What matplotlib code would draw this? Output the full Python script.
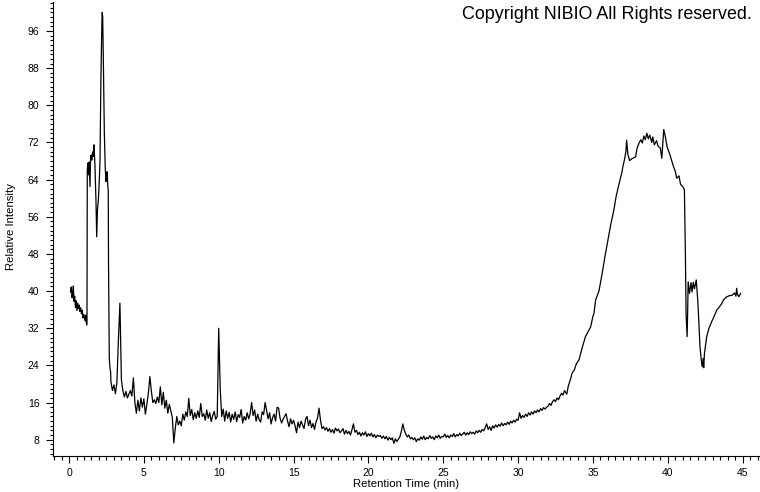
import numpy as np
import matplotlib
matplotlib.use('Agg')
import matplotlib.pyplot as plt
from matplotlib.ticker import MultipleLocator

plt.rcParams['font.family'] = ['Liberation Sans', 'DejaVu Sans']

# chromatogram: start, big early peak, noisy baseline, broad hump
start_t = [0.10, 0.15, 0.20, 0.25, 0.29, 0.33, 0.38, 0.43, 0.48, 0.53, 0.58, 0.63,
           0.68, 0.73, 0.78, 0.83, 0.88, 0.93, 0.98, 1.02, 1.07, 1.12, 1.16, 1.18]
start_v = [39.8, 40.9, 38.6, 39.5, 41.1, 37.8, 38.9, 36.5, 37.9, 35.8, 37.4, 36.2,
           37.0, 35.6, 36.4, 35.1, 35.9, 34.2, 35.0, 34.5, 33.6, 34.8, 33.1, 32.7]

peak_t = [1.20, 1.22, 1.26, 1.31, 1.35, 1.40, 1.44, 1.48, 1.52, 1.58, 1.63, 1.67,
          1.73, 1.80, 1.85, 1.90, 1.96, 2.02, 2.07, 2.13, 2.20, 2.22, 2.25, 2.29,
          2.36, 2.42, 2.47, 2.51, 2.55, 2.59, 2.62, 2.64, 2.69, 2.74, 2.78]
peak_v = [33.2, 66.0, 67.6, 65.0, 67.8, 62.5, 68.6, 69.3, 68.2, 70.0, 69.0, 71.5,
          67.2, 59.6, 51.7, 57.5, 59.6, 63.5, 68.2, 85.5, 98.4, 100.0, 99.0, 90.5,
          74.0, 66.5, 63.6, 64.5, 65.7, 62.5, 61.8, 45.6, 25.5, 23.4, 22.6]

# baseline sampled every 0.1 min from 2.8 min
base_start = 2.8
base_v = [20.5, 18.6,
          19.8, 17.9, 20.4, 29.5, 37.4, 20.9, 18.5, 17.2, 18.4, 17.0,   # 3
          17.8, 18.6, 17.4, 21.3, 16.0, 13.7, 16.5, 14.2, 17.0, 15.0,   # 4
          16.8, 13.5, 15.6, 18.0, 21.6, 18.5, 16.0, 16.6, 15.8, 17.2,   # 5
          16.0, 19.4, 15.5, 18.2, 14.8, 16.5, 13.7, 15.6, 14.2, 12.8,   # 6
          7.3, 10.5, 13.0, 11.2, 12.0, 11.0, 13.5, 12.2, 14.0, 13.0,    # 7
          16.9, 13.2, 14.5, 12.3, 13.8, 12.6, 14.2, 12.8, 15.8, 13.0,   # 8
          13.6, 12.2, 14.4, 12.6, 13.8, 11.9, 13.2, 14.1, 12.4, 13.0,   # 9
          32.0, 19.0, 13.0, 14.6, 12.0, 14.2, 12.6, 13.9, 11.8, 13.5,   # 10
          12.4, 14.0, 11.9, 13.4, 12.8, 14.5, 11.6, 13.0, 12.2, 13.8,   # 11
          12.5, 13.6, 16.0, 13.2, 14.4, 12.0, 13.5, 12.3, 11.8, 14.0,   # 12
          13.4, 16.0, 14.2, 12.5, 13.8, 11.4, 12.8, 13.5, 12.0, 15.0,   # 13
          14.8, 12.6, 11.6, 12.4, 13.0, 13.6, 12.0, 10.8, 12.5, 11.4,   # 14
          12.2, 11.0, 9.5, 11.8, 10.6, 12.0, 11.2, 10.4, 12.4, 13.0,    # 15
          11.0, 12.2, 10.6, 11.5, 10.2, 11.8, 12.6, 14.8, 12.2, 10.4,   # 16
          10.8, 10.1, 10.6, 9.8, 10.4, 9.6, 10.2, 9.4, 10.5, 9.9,       # 17
          10.3, 9.5, 9.9, 10.4, 9.2, 10.0, 9.3, 9.8, 9.0, 10.1,         # 18
          11.4, 9.6, 10.0, 9.1, 9.6, 8.8, 9.5, 9.0, 9.7, 8.7,           # 19
          9.3, 8.8, 9.4, 8.6, 9.1, 8.4, 9.0, 8.7, 8.9, 8.3,             # 20
          8.8, 8.2, 8.7, 7.9, 8.5, 8.0, 8.4, 7.2, 8.2, 7.6,             # 21
          8.1, 8.6, 9.8, 11.4, 10.0, 9.2, 8.6, 9.0, 8.2, 8.5,           # 22
          8.0, 8.4, 7.6, 8.2, 7.9, 8.6, 8.1, 8.8, 8.0, 8.5,             # 23
          8.2, 8.9, 8.3, 8.6, 8.0, 8.8, 8.4, 9.0, 8.3, 8.7,             # 24
          8.6, 9.2, 8.5, 8.9, 8.4, 9.0, 8.7, 9.3, 8.6, 9.1,             # 25
          8.8, 9.4, 8.9, 9.2, 9.6, 9.0, 9.5, 9.1, 9.7, 9.3,             # 26
          9.6, 9.2, 9.9, 9.5, 10.0, 9.6, 10.2, 9.9, 10.6, 11.4,         # 27
          10.2, 10.8, 10.0, 11.0, 10.5, 11.2, 10.7, 11.3, 10.9, 11.6,   # 28
          11.0, 11.5, 11.2, 11.8, 11.3, 12.0, 11.6, 12.2, 11.8, 12.4,   # 29
          12.2, 13.8, 12.6, 13.2, 12.8, 13.5, 13.0, 13.8, 13.3, 14.0,   # 30
          13.5, 14.2, 13.8, 14.4, 14.0, 14.7, 14.3, 14.9, 14.6, 15.0,   # 31
          15.2, 15.8, 15.4, 16.2, 16.6, 16.2, 17.0, 16.6, 17.4, 18.0,   # 32
          17.6]

hump_t = [33.10, 33.25, 33.35, 33.50, 33.60, 33.75, 33.90, 34.07, 34.20, 34.30,
          34.50, 34.70, 34.85, 35.00, 35.07, 35.18, 35.40, 35.60, 35.80, 36.00,
          36.20, 36.40, 36.55, 36.75, 36.93, 37.00, 37.10, 37.20, 37.25, 37.33,
          37.45, 37.60, 37.85, 37.95, 38.07, 38.20, 38.30, 38.40, 38.50, 38.60,
          38.70, 38.80, 38.93, 39.00, 39.10, 39.25, 39.35, 39.50, 39.60, 39.68,
          39.73, 39.85, 39.95, 40.05, 40.15, 40.25, 40.38, 40.50, 40.60, 40.75,
          40.85, 41.00, 41.11, 41.18, 41.22, 41.29, 41.33, 41.36, 41.45, 41.55,
          41.62, 41.70, 41.78, 41.90, 42.00, 42.08, 42.15, 42.25, 42.30, 42.36,
          42.40, 42.45, 42.60, 42.75, 42.93, 43.10, 43.27, 43.45, 43.60, 43.72,
          43.90, 44.10, 44.30, 44.45, 44.55, 44.60, 44.65, 44.75, 44.87]
hump_v = [18.6, 17.8, 19.5, 21.0, 22.3, 23.0, 24.4, 25.2, 26.8, 28.0,
          30.2, 31.4, 32.3, 34.6, 35.2, 38.1, 40.0, 43.5, 47.4, 51.0,
          54.5, 57.5, 60.4, 63.2, 65.5, 66.8, 68.2, 70.0, 72.5, 69.5,
          68.1, 68.5, 68.9, 70.8, 71.8, 72.6, 71.9, 73.4, 72.6, 74.0,
          72.8, 73.6, 72.0, 73.2, 71.5, 72.4, 71.2, 70.8, 68.6, 72.6,
          74.8, 73.0, 71.1, 70.2, 69.3, 68.2, 66.8, 65.8, 64.3, 64.8,
          63.0, 62.5, 61.8, 47.0, 35.2, 30.2, 36.0, 42.0, 39.5, 41.8,
          39.8, 41.9, 40.5, 42.4, 38.1, 33.0, 28.0, 24.8, 23.7, 25.5,
          23.5, 26.6, 30.2, 32.0, 33.4, 34.6, 35.9, 36.6, 37.3, 38.1,
          38.7, 39.0, 39.1, 39.6, 38.9, 40.6, 39.3, 38.8, 39.5]

base_t = base_start + 0.1 * np.arange(len(base_v))
t = np.concatenate([start_t, peak_t, base_t, hump_t])
v = np.concatenate([start_v, peak_v, base_v, hump_v])

fig = plt.figure(figsize=(7.6, 4.92), dpi=100)
ax = fig.add_axes([53/760, 36/492, 1 - 53/760, 454/492])
ax.plot(t, v, color='black', lw=0.9)

ax.set_xlim(-1.07, 46.16)
ax.set_ylim(4.49, 102.25)
ax.xaxis.set_major_locator(MultipleLocator(5))
ax.xaxis.set_minor_locator(MultipleLocator(0.5))
ax.yaxis.set_major_locator(MultipleLocator(8))
ax.yaxis.set_minor_locator(MultipleLocator(1))
ax.set_yticks(np.arange(8, 100, 8))
ax.tick_params(which='both', direction='out', width=0.8, labelsize=7.5, colors='black')
ax.tick_params(axis='y', which='major', length=4.8, pad=5)
ax.tick_params(axis='y', which='minor', length=2.4)
ax.tick_params(axis='x', which='major', length=4.8, pad=3.5)
ax.tick_params(axis='x', which='minor', length=2.8)
for s in ['top', 'right']:
    ax.spines[s].set_visible(False)
for s in ['left', 'bottom']:
    ax.spines[s].set_linewidth(0.8)

ax.set_xlabel('Retention Time (min)', fontsize=8.2, labelpad=1)
ax.set_ylabel('Relative Intensity', fontsize=8.2)
ax.yaxis.set_label_coords(-0.053, 0.505)

fig.text(0.9895, 0.9715, 'Copyright NIBIO All Rights reserved.', ha='right', va='center',
         fontsize=12.9)

fig.savefig('out.png', dpi=100)
